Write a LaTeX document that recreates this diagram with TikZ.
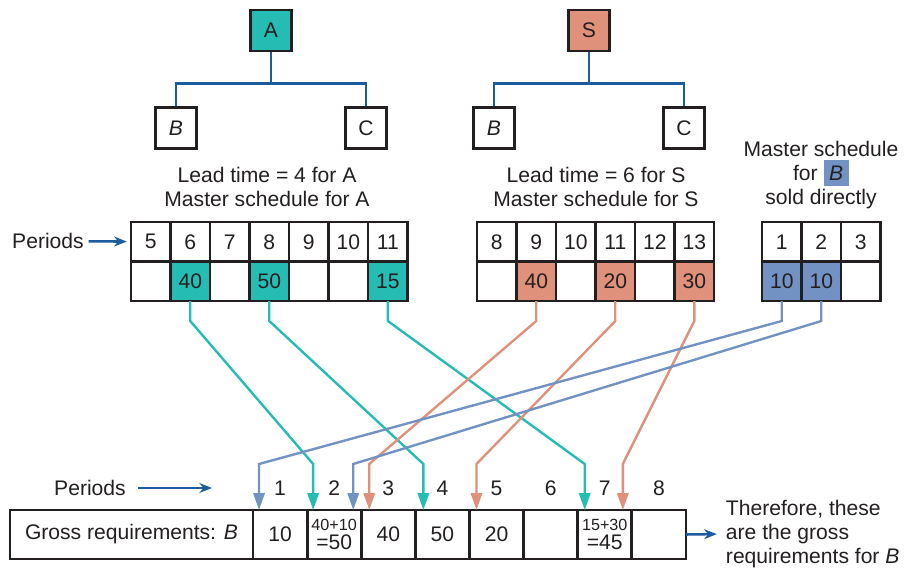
\documentclass[tikz,border=0pt]{standalone}
\usepackage{fontspec}
\setmainfont{Liberation Sans}
\usepackage{xcolor}
\definecolor{inkcolor}{HTML}{231F20}
\definecolor{treecolor}{HTML}{1B5C9E}
\definecolor{tealcolor}{HTML}{25BCB4}
\definecolor{salmoncolor}{HTML}{E0917B}
\definecolor{bluecolor}{HTML}{7392C4}
\newcommand{\figfont}{\fontsize{15}{17}\selectfont}
\newcommand{\smallfigfont}{\fontsize{11.5}{14}\selectfont}
\setlength{\fboxsep}{4pt}
\usepackage{tikz}
\usetikzlibrary{positioning,arrows.meta,calc}
\tikzset{
    item/.style={
        rectangle,
        draw=inkcolor,
        fill=white,
        text=inkcolor,
        minimum size=1.025cm,
        inner sep=0pt,
        line width=2pt,
        font=\figfont,
    },
    cell/.style={
        rectangle,
        draw=inkcolor,
        fill=white,
        text=inkcolor,
        minimum width=0.9875cm,
        minimum height=0.9875cm,
        inner sep=0pt,
        outer sep=0pt,
        line width=2pt,
        font=\figfont,
    },
    grosscell/.style={
        cell,
        minimum width=1.3525cm,
        minimum height=1.225cm,
        align=center,
    },
    note/.style={
        text=inkcolor,
        font=\figfont,
        align=center,
    },
    tree/.style={
        line width=1.8pt,
        treecolor,
    },
    pointer/.style={
        -{Stealth[length=9pt,width=7pt]},
        line width=1.8pt,
        treecolor,
    },
    tealflow/.style={
        -{Triangle[length=12pt,width=8pt]},
        line width=1.7pt,
        tealcolor,
    },
    salmonflow/.style={
        -{Triangle[length=12pt,width=8pt]},
        line width=1.7pt,
        salmoncolor,
    },
    blueflow/.style={
        -{Triangle[length=12pt,width=8pt]},
        line width=1.7pt,
        bluecolor,
    },
}
\begin{document}
\begin{tikzpicture}[x=0.025cm, y=-0.025cm]
    \useasboundingbox (0,0) rectangle (907,567);

    % Product tree for A
    \node[item, fill=tealcolor] (A) at (271,30.5) {A};
    \node[item] (AB) at (176,128) {\textit{B}};
    \node[item] (AC) at (366,128) {C};
    \draw[tree] (A.south) -- ++(0,31) -| (AB.north);
    \draw[tree] (A.south) -- ++(0,31) -| (AC.north);

    % Product tree for S
    \node[item, fill=salmoncolor] (S) at (589,30.5) {S};
    \node[item] (SB) at (494,128) {\textit{B}};
    \node[item] (SC) at (684,128) {C};
    \draw[tree] (S.south) -- ++(0,31) -| (SB.north);
    \draw[tree] (S.south) -- ++(0,31) -| (SC.north);

    % Captions
    \node[note] (leadA) at (267,187) {Lead time = 4 for A\\Master schedule for A};
    \node[note] (leadS) at (596,187) {Lead time = 6 for S\\Master schedule for S};
    \node[note] (direct) at (821,175) {Master schedule\\for~\colorbox{bluecolor}{\textit{B}}\\sold directly};

    % Master schedule for A
    \node[cell] (aper5) at (150.75,241.75) {5};
    \node[cell, right=0pt of aper5] (aper6) {6};
    \node[cell, right=0pt of aper6] (aper7) {7};
    \node[cell, right=0pt of aper7] (aper8) {8};
    \node[cell, right=0pt of aper8] (aper9) {9};
    \node[cell, right=0pt of aper9] (aper10) {10};
    \node[cell, right=0pt of aper10] (aper11) {11};
    \node[cell, below=0pt of aper5] (aqty5) {};
    \node[cell, below=0pt of aper6, fill=tealcolor] (aqty6) {40};
    \node[cell, below=0pt of aper7] (aqty7) {};
    \node[cell, below=0pt of aper8, fill=tealcolor] (aqty8) {50};
    \node[cell, below=0pt of aper9] (aqty9) {};
    \node[cell, below=0pt of aper10] (aqty10) {};
    \node[cell, below=0pt of aper11, fill=tealcolor] (aqty11) {15};

    % Master schedule for S
    \node[cell] (sper8) at (496.75,241.75) {8};
    \node[cell, right=0pt of sper8] (sper9) {9};
    \node[cell, right=0pt of sper9] (sper10) {10};
    \node[cell, right=0pt of sper10] (sper11) {11};
    \node[cell, right=0pt of sper11] (sper12) {12};
    \node[cell, right=0pt of sper12] (sper13) {13};
    \node[cell, below=0pt of sper8] (sqty8) {};
    \node[cell, below=0pt of sper9, fill=salmoncolor] (sqty9) {40};
    \node[cell, below=0pt of sper10] (sqty10) {};
    \node[cell, below=0pt of sper11, fill=salmoncolor] (sqty11) {20};
    \node[cell, below=0pt of sper12] (sqty12) {};
    \node[cell, below=0pt of sper13, fill=salmoncolor] (sqty13) {30};

    % Master schedule for B
    \node[cell] (bper1) at (781.75,241.75) {1};
    \node[cell, right=0pt of bper1] (bper2) {2};
    \node[cell, right=0pt of bper2] (bper3) {3};
    \node[cell, below=0pt of bper1, fill=bluecolor] (bqty1) {10};
    \node[cell, below=0pt of bper2, fill=bluecolor] (bqty2) {10};
    \node[cell, below=0pt of bper3] (bqty3) {};

    \node[note] (periodsA) at (48,241) {Periods};
    \draw[pointer, shorten >=3pt] (periodsA) -- (aper5);

    % Gross requirements for B
    \node[grosscell, minimum width=6.075cm] (gross) at (131.5,534.5) {Gross requirements: \textit{B}};
    \node[grosscell, right=0pt of gross] (gross1) {10};
    \node[grosscell, right=0pt of gross1] (gross2) {{\smallfigfont 40+10}\\[-3pt]=50};
    \node[grosscell, right=0pt of gross2] (gross3) {40};
    \node[grosscell, right=0pt of gross3] (gross4) {50};
    \node[grosscell, right=0pt of gross4] (gross5) {20};
    \node[grosscell, right=0pt of gross5] (gross6) {};
    \node[grosscell, right=0pt of gross6] (gross7) {{\smallfigfont 15+30}\\[-3pt]=45};
    \node[grosscell, right=0pt of gross7] (gross8) {};

    \node[note] (num1) at ($(gross1.north)+(0,-22)$) {1};
    \node[note] (num2) at ($(gross2.north)+(0,-22)$) {2};
    \node[note] (num3) at ($(gross3.north)+(0,-22)$) {3};
    \node[note] (num4) at ($(gross4.north)+(0,-22)$) {4};
    \node[note] (num5) at ($(gross5.north)+(0,-22)$) {5};
    \node[note] (num6) at ($(gross6.north)+(0,-22)$) {6};
    \node[note] (num7) at ($(gross7.north)+(0,-22)$) {7};
    \node[note] (num8) at ($(gross8.north)+(0,-22)$) {8};

    \node[note] (periodsB) at (90,488) {Periods};
    \coordinate (periodsend) at (212,488);
    \draw[pointer, shorten <=5pt] (periodsB) -- (periodsend);

    \node[note, align=left, anchor=west] (therefore) at (721,534) {Therefore, these\\are the gross\\requirements for \textit{B}};
    \draw[pointer, shorten >=3pt] (gross8.east) -- (therefore.west);

    % Offsets into the gross requirements row
    \draw[tealflow] (aqty6.south) -- ++(0,20) -- ($(gross2.north west)+(6,-46)$) -- ($(gross2.north west)+(6,0)$);
    \draw[tealflow] (aqty8.south) -- ++(0,20) -- ($(gross4.north west)+(8,-46)$) -- ($(gross4.north west)+(8,0)$);
    \draw[tealflow] (aqty11.south) -- ++(0,20) -- ($(gross7.north west)+(7,-46)$) -- ($(gross7.north west)+(7,0)$);
    \draw[salmonflow] (sqty9.south) -- ++(0,20) -- ($(gross3.north west)+(8,-46)$) -- ($(gross3.north west)+(8,0)$);
    \draw[salmonflow] (sqty11.south) -- ++(0,20) -- ($(gross5.north west)+(7,-46)$) -- ($(gross5.north west)+(7,0)$);
    \draw[salmonflow] (sqty13.south) -- ++(0,20) -- ($(gross7.north east)+(-9,-46)$) -- ($(gross7.north east)+(-9,0)$);
    \draw[blueflow] (bqty1.south) -- ++(0,20) -- ($(gross1.north west)+(6,-46)$) -- ($(gross1.north west)+(6,0)$);
    \draw[blueflow] (bqty2.south) -- ++(0,20) -- ($(gross2.north east)+(-8,-46)$) -- ($(gross2.north east)+(-8,0)$);

\end{tikzpicture}
\end{document}
